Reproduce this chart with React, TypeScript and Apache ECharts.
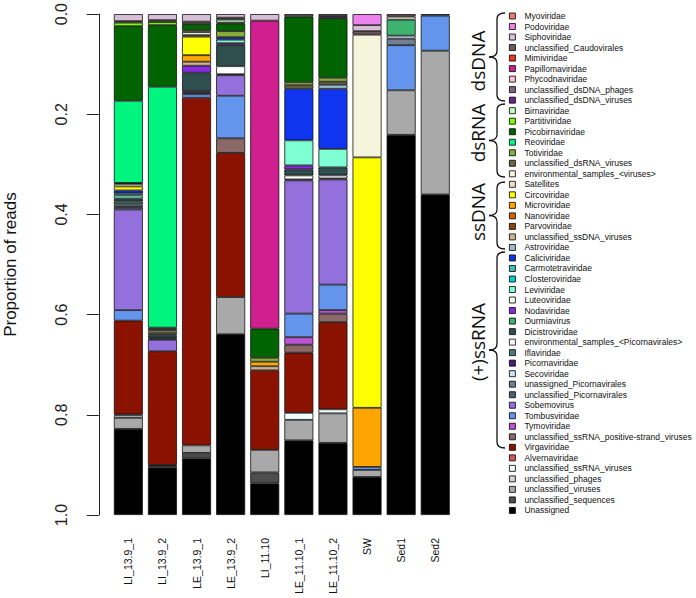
import React, { useEffect, useRef } from "react";
import * as echarts from "echarts";

const samples = ["LI_13.9_1", "LI_13.9_2", "LE_13.9_1", "LE_13.9_2", "LI_11.10", "LE_11.10_1", "LE_11.10_2", "SW", "Sed1", "Sed2"];

const taxa = [
  "Myoviridae", "Podoviridae", "Siphoviridae", "unclassified_Caudovirales", "Mimiviridae", "Papillomaviridae",
  "Phycodnaviridae", "unclassified_dsDNA_phages", "unclassified_dsDNA_viruses", "Birnaviridae", "Partitiviridae",
  "Picobirnaviridae", "Reoviridae", "Totiviridae", "unclassified_dsRNA_viruses", "environmental_samples_<viruses>",
  "Satellites", "Circoviridae", "Microviridae", "Nanoviridae", "Parvoviridae", "unclassified_ssDNA_viruses",
  "Astroviridae", "Caliciviridae", "Carmotetraviridae", "Closteroviridae", "Leviviridae", "Luteoviridae",
  "Nodaviridae", "Ourmiavirus", "Dicistroviridae", "environmental_samples_<Picornavirales>", "Iflaviridae",
  "Picornaviridae", "Secoviridae", "unassigned_Picornavirales", "unclassified_Picornavirales", "Sobemovirus",
  "Tombusviridae", "Tymoviridae", "unclassified_ssRNA_positive-strand_viruses", "Virgaviridae", "Alvernaviridae",
  "unclassified_ssRNA_viruses", "unclassified_phages", "unclassified_viruses", "unclassified_sequences", "Unassigned",
];

const taxonColors = [
  "#E9806E", "#EE82EE", "#D8BFD8", "#6E5A5A", "#E53A1E", "#D02090",
  "#FFC0CB", "#7F6482", "#68228B", "#C1FFC1", "#7CFC00",
  "#006400", "#00F57F", "#8AAE3A", "#6B6B47", "#F5F5DC",
  "#EEDFC4", "#FFFF00", "#FFA500", "#CD6600", "#8B4513", "#D2B48C",
  "#9AC0CD", "#1035F0", "#40C0B0", "#00CED1", "#7FFFD4", "#F0FFF0",
  "#8A2BE2", "#3CB371", "#2F4F4F", "#FFFFFF", "#4A7A7A",
  "#4B1A7A", "#CAE1FF", "#708090", "#4A6274", "#9370DB",
  "#6495ED", "#BA55D3", "#8B6969", "#8B1200", "#CD5C5C",
  "#F0FFFF", "#D3D3D3", "#A9A9A9", "#4D4D4D", "#000000",
];

const LI_13_9_1: [string, number][] = [
  ["Siphoviridae", 0.014], ["unclassified_Caudovirales", 0.003], ["Partitiviridae", 0.007],
  ["Picobirnaviridae", 0.149], ["Reoviridae", 0.164], ["Totiviridae", 0.002],
  ["environmental_samples_<viruses>", 0.005], ["Circoviridae", 0.008], ["Caliciviridae", 0.006],
  ["Carmotetraviridae", 0.004], ["Leviviridae", 0.006], ["Dicistroviridae", 0.006], ["Iflaviridae", 0.006],
  ["unassigned_Picornavirales", 0.005], ["unclassified_Picornavirales", 0.005], ["Sobemovirus", 0.201],
  ["Tombusviridae", 0.021], ["Virgaviridae", 0.187], ["unclassified_ssRNA_viruses", 0.002],
  ["unclassified_phages", 0.005], ["unclassified_viruses", 0.022], ["Unassigned", 0.172],
];
const LI_13_9_2: [string, number][] = [
  ["Siphoviridae", 0.012], ["unclassified_Caudovirales", 0.004], ["Partitiviridae", 0.006],
  ["Picobirnaviridae", 0.123], ["Reoviridae", 0.481], ["Totiviridae", 0.003],
  ["unclassified_dsRNA_viruses", 0.003], ["Satellites", 0.004], ["Circoviridae", 0.003],
  ["Carmotetraviridae", 0.003], ["Closteroviridae", 0.003], ["Dicistroviridae", 0.003],
  ["unassigned_Picornavirales", 0.002], ["Sobemovirus", 0.023], ["Virgaviridae", 0.227],
  ["unclassified_viruses", 0.002], ["unclassified_sequences", 0.003], ["Unassigned", 0.095],
];
const LE_13_9_1: [string, number][] = [
  ["Siphoviridae", 0.015], ["unclassified_Caudovirales", 0.005], ["Picobirnaviridae", 0.012],
  ["Totiviridae", 0.004], ["environmental_samples_<viruses>", 0.006], ["Satellites", 0.003],
  ["Circoviridae", 0.037], ["Microviridae", 0.013], ["unclassified_ssDNA_viruses", 0.008],
  ["Nodaviridae", 0.014], ["Dicistroviridae", 0.037], ["Picornaviridae", 0.003],
  ["unclassified_Picornavirales", 0.003], ["Tombusviridae", 0.007], ["Virgaviridae", 0.694],
  ["unclassified_viruses", 0.015], ["unclassified_sequences", 0.011], ["Unassigned", 0.113],
];
const LE_13_9_2: [string, number][] = [
  ["Siphoviridae", 0.007], ["unclassified_Caudovirales", 0.004], ["Birnaviridae", 0.006],
  ["Partitiviridae", 0.002], ["Picobirnaviridae", 0.015], ["Totiviridae", 0.012],
  ["Caliciviridae", 0.005], ["Leviviridae", 0.007], ["Nodaviridae", 0.004], ["Dicistroviridae", 0.042],
  ["environmental_samples_<Picornavirales>", 0.016], ["Iflaviridae", 0.002], ["Sobemovirus", 0.041],
  ["Tombusviridae", 0.085], ["unclassified_ssRNA_positive-strand_viruses", 0.029], ["Virgaviridae", 0.288],
  ["unclassified_viruses", 0.074], ["Unassigned", 0.361],
];
const LI_11_10: [string, number][] = [
  ["Siphoviridae", 0.013], ["Papillomaviridae", 0.615], ["Picobirnaviridae", 0.058], ["Totiviridae", 0.008],
  ["Microviridae", 0.009], ["unclassified_ssDNA_viruses", 0.008], ["Virgaviridae", 0.159],
  ["unclassified_viruses", 0.045], ["unclassified_sequences", 0.022], ["Unassigned", 0.063],
];
const LE_11_10_1: [string, number][] = [
  ["unclassified_Caudovirales", 0.005], ["Picobirnaviridae", 0.131], ["Totiviridae", 0.006],
  ["unclassified_dsRNA_viruses", 0.007], ["Caliciviridae", 0.103], ["Leviviridae", 0.05],
  ["Nodaviridae", 0.008], ["Dicistroviridae", 0.012], ["environmental_samples_<Picornavirales>", 0.008],
  ["unclassified_Picornavirales", 0.002], ["Sobemovirus", 0.266], ["Tombusviridae", 0.047],
  ["Tymoviridae", 0.015], ["unclassified_ssRNA_positive-strand_viruses", 0.016], ["Virgaviridae", 0.12],
  ["unclassified_ssRNA_viruses", 0.014], ["unclassified_viruses", 0.041], ["Unassigned", 0.149],
];
const LE_11_10_2: [string, number][] = [
  ["unclassified_Caudovirales", 0.004], ["unclassified_dsDNA_viruses", 0.004], ["Picobirnaviridae", 0.119],
  ["Totiviridae", 0.008], ["unclassified_dsRNA_viruses", 0.006], ["Astroviridae", 0.008],
  ["Caliciviridae", 0.12], ["Leviviridae", 0.037], ["Dicistroviridae", 0.016],
  ["environmental_samples_<Picornavirales>", 0.006], ["unclassified_Picornavirales", 0.002],
  ["Sobemovirus", 0.21], ["Tombusviridae", 0.051], ["Tymoviridae", 0.007],
  ["unclassified_ssRNA_positive-strand_viruses", 0.017], ["Virgaviridae", 0.174],
  ["unclassified_ssRNA_viruses", 0.008], ["unclassified_viruses", 0.059], ["Unassigned", 0.144],
];
const SW: [string, number][] = [
  ["Podoviridae", 0.022], ["Siphoviridae", 0.012], ["unclassified_Caudovirales", 0.007],
  ["environmental_samples_<viruses>", 0.245], ["Circoviridae", 0.5], ["Microviridae", 0.118],
  ["Tombusviridae", 0.006], ["unclassified_viruses", 0.014], ["Unassigned", 0.076],
];
const Sed1: [string, number][] = [
  ["unclassified_Caudovirales", 0.005], ["environmental_samples_<viruses>", 0.006], ["Ourmiavirus", 0.032],
  ["Secoviridae", 0.006], ["unassigned_Picornavirales", 0.013], ["Tombusviridae", 0.09],
  ["unclassified_viruses", 0.089], ["Unassigned", 0.759],
];
const Sed2: [string, number][] = [
  ["unclassified_dsDNA_viruses", 0.003], ["Tombusviridae", 0.07], ["unclassified_viruses", 0.287], ["Unassigned", 0.64],
];

const sampleData = [LI_13_9_1, LI_13_9_2, LE_13_9_1, LE_13_9_2, LI_11_10, LE_11_10_1, LE_11_10_2, SW, Sed1, Sed2];

const groupLabels = ["dsDNA", "dsRNA", "ssDNA", "(+)ssRNA"];

// layout of braces (pixels)
const braceTop = [13, 104, 182, 252];
const braceBottom = [101, 177, 249, 448];
const labelY = [61, 133, 212, 342];

function braceElements(yT: number, yB: number) {
  const xe = 505, xs = 497, xt = 489, r = 6;
  const yM = (yT + yB) / 2;
  const st = { stroke: "#111", lineWidth: 1.3, fill: "none" };
  return [
    { type: "bezierCurve", shape: { x1: xe, y1: yT, cpx1: xs, cpy1: yT, x2: xs, y2: yT + r }, style: st },
    { type: "line", shape: { x1: xs, y1: yT + r, x2: xs, y2: yM - r }, style: st },
    { type: "bezierCurve", shape: { x1: xs, y1: yM - r, cpx1: xs, cpy1: yM, x2: xt, y2: yM }, style: st },
    { type: "bezierCurve", shape: { x1: xt, y1: yM, cpx1: xs, cpy1: yM, x2: xs, y2: yM + r }, style: st },
    { type: "line", shape: { x1: xs, y1: yM + r, x2: xs, y2: yB - r }, style: st },
    { type: "bezierCurve", shape: { x1: xs, y1: yB - r, cpx1: xs, cpy1: yB, x2: xe, y2: yB }, style: st },
  ];
}

export default function App() {
  const ref = useRef<HTMLDivElement>(null);
  useEffect(() => {
    if (!ref.current) return;
    const chart = echarts.init(ref.current, undefined, { renderer: "svg" });
    const font = "Liberation Sans, Arial, Helvetica, sans-serif";
    const series = taxa.map((t, i) => ({
      name: t,
      type: "bar",
      stack: "all",
      barWidth: 29,
      itemStyle: { color: taxonColors[i], borderColor: "#111", borderWidth: 0.8 },
      emphasis: { disabled: true },
      data: sampleData.map((s) => {
        const f = s.find((p) => p[0] === t);
        return f ? f[1] : null;
      }),
    }));
    const graphics: any[] = [];
    groupLabels.forEach((g, i) => {
      graphics.push(...braceElements(braceTop[i], braceBottom[i]));
      graphics.push({
        type: "text",
        x: 478,
        y: labelY[i],
        rotation: Math.PI / 2,
        style: {
          text: g,
          font: "19px 'Open Sans', sans-serif",
          fill: "#111",
          align: "center",
          verticalAlign: "middle",
        },
      });
    });
    chart.setOption({
      animation: false,
      backgroundColor: "#fff",
      textStyle: { fontFamily: font },
      grid: { left: 111.3, right: 243.7, top: 12, bottom: 83, containLabel: false },
      xAxis: {
        type: "category",
        data: samples,
        axisLine: { show: false },
        axisTick: { show: false },
        axisLabel: { rotate: 90, fontSize: 10.5, margin: 23, color: "#111", fontFamily: font, interval: 0 },
      },
      yAxis: {
        type: "value",
        inverse: true,
        min: 0,
        max: 1,
        interval: 0.2,
        offset: 12.5,
        splitLine: { show: false },
        axisLine: { show: true, lineStyle: { color: "#222", width: 1 } },
        axisTick: { show: true, length: 12, lineStyle: { color: "#222", width: 1 } },
        axisLabel: {
          rotate: 90,
          fontSize: 16,
          margin: 29,
          color: "#222",
          fontFamily: font,
          formatter: (v: number) => v.toFixed(1),
        },
        name: "Proportion of reads",
        nameLocation: "middle",
        nameRotate: 90,
        nameGap: 80,
        nameTextStyle: { fontSize: 17, color: "#111", fontFamily: font },
      },
      legend: {
        orient: "vertical",
        left: 509,
        top: 11,
        padding: 0,
        itemWidth: 6,
        itemHeight: 6,
        itemGap: 0.52,
        icon: "rect",
        selectedMode: false,
        itemStyle: { borderColor: "#000", borderWidth: 0.8 },
        textStyle: { fontSize: 8.5, lineHeight: 10, color: "#111", fontFamily: font, padding: [0, 0, 0, 4] },
        data: taxa,
      },
      graphic: graphics,
      series,
    });
    return () => chart.dispose();
  }, []);
  return <div ref={ref} style={{ position: "absolute", left: 0, top: 0, width: 696, height: 598 }} />;
}
